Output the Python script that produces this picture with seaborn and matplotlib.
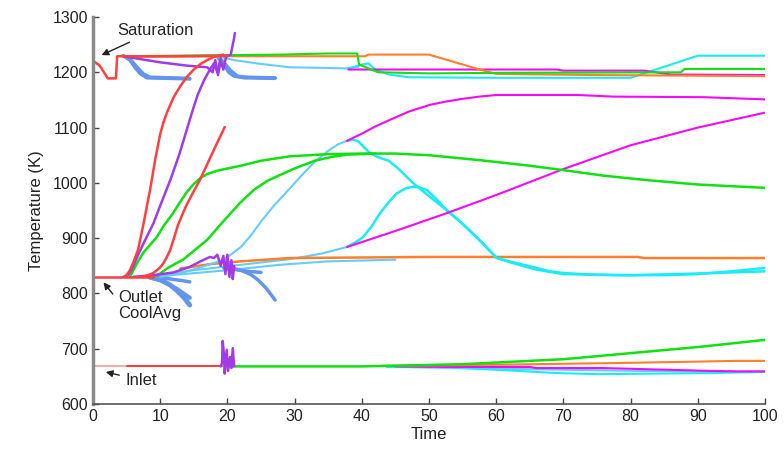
import numpy as np
import pandas as pd
import matplotlib
matplotlib.use("Agg")
import matplotlib.pyplot as plt
import seaborn as sns

# ---- data: (time, temperature K) ----
# saturation group
red_sat = [(0, 1221), (1.0, 1212), (2.2, 1189), (3.4, 1189), (3.6, 1229), (12, 1229), (20, 1230)]
green_sat = [(4.5, 1229), (20, 1231), (28, 1232), (35, 1234), (39.3, 1234), (39.6, 1214),
             (40.8, 1208), (42.4, 1200), (50, 1198), (60, 1199), (87.5, 1200), (88, 1206), (100, 1206)]
orange_sat = [(5, 1228), (20, 1229), (40.5, 1229), (41, 1232), (50, 1232), (57, 1207),
              (60, 1197), (75, 1195), (100, 1193)]
purple_sat = [(4.5, 1229), (7, 1224), (10, 1218), (14, 1212), (17, 1209), (17.8, 1200), (18.2, 1222),
              (18.6, 1195), (19, 1220), (19.4, 1205), (19.8, 1228), (20.5, 1232), (20.8, 1250),
              (21, 1262), (21.1, 1271)]
blue_sat_a = [(4.5, 1230), (5.5, 1222), (6.3, 1208), (7, 1198), (8, 1190), (14.4, 1188)]
blue_sat_b = [(4.5, 1230), (5.5, 1224), (6.5, 1210), (7.5, 1197), (8.5, 1191), (14.4, 1189)]
blue_sat_c = [(18.5, 1228), (19.5, 1214), (20.2, 1200), (21, 1193), (22.5, 1190), (27.1, 1189)]
blue_sat_d = [(18.8, 1226), (19.6, 1216), (20.4, 1204), (21.5, 1193), (23, 1191), (27.1, 1190)]
lblue_sat = [(18.5, 1229), (21, 1222), (24.4, 1216), (29.3, 1209), (34, 1208), (38, 1207), (39.5, 1210)]
cyan_sat = [(38, 1207), (40, 1214), (41, 1216), (42, 1205), (44, 1196), (47, 1191), (60, 1190),
            (80, 1190), (90, 1230), (100, 1230)]
magenta_sat = [(38, 1205), (55, 1205), (69, 1205), (70, 1203), (82, 1203), (86, 1196), (100, 1195)]

# outlet / coolant group
red_base = [(0, 830), (9, 830)]
red_rise_a = [(4.5, 830), (5, 833), (5.5, 842), (6, 856), (6.7, 879), (7.5, 925), (8.5, 988),
              (9.3, 1045), (10, 1088), (10.5, 1110), (11, 1127), (12, 1155), (13, 1175), (14, 1192),
              (15, 1205), (16, 1215), (17, 1222), (18, 1228), (19.4, 1232)]
red_rise_b = [(7, 830), (8, 832), (9, 837), (10, 847), (10.5, 855), (11, 866), (11.5, 879), (12, 898),
              (12.6, 922), (13.3, 943), (14, 962), (15, 985), (15.9, 1005), (16.7, 1026), (17.5, 1047),
              (18.5, 1073), (19.6, 1101)]
purple_rise = [(5, 830), (5.5, 838), (6, 850), (6.5, 864), (7.5, 890), (9, 927), (10.2, 965),
               (11.5, 1005), (12.8, 1050), (14, 1098), (14.8, 1130), (15.6, 1160), (16.5, 1185),
               (17.4, 1205), (18, 1216), (18.5, 1200), (19, 1226)]
green_rise_a = [(5.5, 830), (6, 842), (6.7, 858), (7.5, 874), (8.5, 888), (9.5, 902), (10.5, 922),
                (11.9, 945), (13, 966), (14, 984), (15, 998), (16, 1009), (17, 1016), (18.5, 1022),
                (20, 1026), (22, 1031), (25, 1040), (29.3, 1048), (35, 1052), (40, 1053), (45, 1053),
                (50, 1050), (57.6, 1041), (65, 1031), (70, 1023), (76, 1013), (82.4, 1005), (90, 997),
                (100, 991)]
green_rise_b = [(9, 830), (10, 836), (11, 845), (12, 852), (13.4, 861), (15, 877), (17, 897), (19, 925),
                (21.9, 964), (24, 988), (26, 1004), (27.8, 1014), (30, 1026), (33, 1040), (35.5, 1047),
                (37.8, 1051), (42, 1053)]
lblue_rise = [(10, 830), (12, 834), (14, 840), (16, 847), (18, 855), (19.3, 860), (20.5, 870),
              (22, 884), (23.5, 905), (25, 930), (27, 960), (29.3, 990), (31, 1013), (33, 1038),
              (35, 1058), (36.5, 1070), (37.8, 1076)]
cyan_peak_a = [(37.8, 1076), (38.7, 1078), (39.5, 1075), (40.2, 1066), (41.2, 1054), (42.5, 1046),
               (44, 1040), (45.5, 1025), (47.6, 1000), (50, 976), (52.6, 951), (55, 926), (57.5, 897),
               (60.1, 864), (62, 858), (65, 849), (68, 840), (70, 837), (74, 834), (77.4, 833),
               (85, 833), (89.9, 835), (95, 840), (100, 846)]
cyan_peak_b = [(37.8, 884), (39, 892), (40.2, 902), (41.5, 922), (42.7, 945), (44, 965), (45.2, 981),
               (46.5, 990), (47.6, 993), (48.5, 992), (49.7, 987), (51, 972), (52.6, 951), (55, 926),
               (57.5, 896), (60.1, 864), (63, 853), (66, 843), (70, 835), (80, 833), (90, 836),
               (100, 840)]
magenta_rise = [(37.8, 1076), (40, 1089), (42, 1102), (44.2, 1114), (47, 1129), (50.1, 1141),
                (52.5, 1147), (55, 1152), (57.5, 1156), (60.1, 1159), (72, 1159), (77.4, 1156),
                (90.8, 1155), (100, 1151)]
magenta_line = [(37.8, 884), (45, 913), (52.6, 945), (60, 978), (70, 1025), (80, 1068), (90, 1100),
                (100, 1127)]
lblue_low_a = [(8, 830), (14.4, 841), (20, 849), (29.3, 862), (34, 872), (37.8, 884)]
lblue_low_b = [(8, 829), (14.4, 836), (20, 842), (28, 852), (35, 858), (45, 861)]
orange_low = [(13, 845), (17.4, 853), (22, 858), (29.3, 864), (50, 866), (81, 866), (82, 864), (100, 864)]
purple_low = [(6, 830), (9, 833), (12, 838), (14.4, 848), (16, 858), (17.4, 866), (18, 864), (18.5, 870),
              (19, 850), (19.4, 868), (19.7, 835), (20, 870), (20.3, 830), (20.6, 860), (20.8, 826),
              (21, 850)]
blue_low_a = [(8.5, 829), (9.5, 827), (10.5, 822), (11.5, 815), (12.5, 805), (13.5, 793), (14.4, 779)]
blue_low_b = [(8.5, 829), (10, 824), (11, 818), (12.5, 808), (14.4, 792)]
blue_low_c = [(8.5, 830), (11, 827), (12.8, 824), (14.4, 821)]
blue_low_d = [(19.5, 848), (21, 845), (22, 842), (23.5, 834), (24.5, 825), (25.8, 809), (27.1, 788)]
blue_low_e = [(19.5, 846), (23, 840), (25, 838)]

# inlet group
pink_inlet = [(0, 668), (5, 668)]
red_inlet = [(5, 668), (19.2, 668)]
purple_inlet = [(19.0, 668), (19.2, 674), (19.3, 714), (19.5, 688), (19.6, 655), (19.9, 698), (20.1, 660),
                (20.4, 685), (20.6, 665), (20.8, 701), (21, 668)]
green_inlet = [(21, 668), (40, 668), (55, 672), (70, 681), (80, 692), (90, 703), (100, 716)]
orange_inlet = [(43, 669), (60, 671), (77.4, 674), (87, 676), (95.8, 678), (100, 678)]
magenta_inlet = [(45, 668), (52.6, 667), (65, 667), (66, 665), (76, 665), (91.4, 660), (96, 659), (100, 659)]
cyan_inlet = [(43.7, 667), (52.6, 666), (60, 662), (69, 656), (75, 654), (92.3, 656), (100, 658)]
lblue_inlet = [(47, 667), (60, 664), (80, 660), (100, 658)]

RED = "#ff4040"
GREEN = "#11e011"
ORANGE = "#ff7f2a"
PURPLE = "#a03ce6"
BLUE = "#6495ed"
LBLUE = "#66ccff"
CYAN = "#19ecf5"
MAGENTA = "#f50af5"
PINK = "#ff9999"

series = [
    (lblue_low_b, LBLUE, 1.5), (lblue_low_a, LBLUE, 1.5), (orange_low, ORANGE, 1.8),
    (blue_low_a, BLUE, 3.5), (blue_low_b, BLUE, 3), (blue_low_c, BLUE, 2.5),
    (blue_low_d, BLUE, 2.5), (blue_low_e, BLUE, 2.5),
    (blue_sat_a, BLUE, 2.5), (blue_sat_b, BLUE, 2.5), (blue_sat_c, BLUE, 2.5), (blue_sat_d, BLUE, 2.5),
    (lblue_sat, LBLUE, 1.5), (cyan_sat, CYAN, 1.5), (magenta_sat, MAGENTA, 1.5),
    (orange_sat, ORANGE, 1.5), (green_sat, GREEN, 1.5),
    (lblue_rise, LBLUE, 1.5), (cyan_peak_a, CYAN, 1.8), (cyan_peak_b, CYAN, 1.8),
    (magenta_rise, MAGENTA, 1.5), (magenta_line, MAGENTA, 1.5),
    (green_rise_b, GREEN, 1.8), (green_rise_a, GREEN, 1.8),
    (purple_low, PURPLE, 1.8), (purple_rise, PURPLE, 1.8), (purple_sat, PURPLE, 1.8),
    (red_rise_b, RED, 1.8), (red_rise_a, RED, 1.8), (red_base, RED, 1.8), (red_sat, RED, 1.8),
    (lblue_inlet, LBLUE, 1.5), (cyan_inlet, CYAN, 1.5), (magenta_inlet, MAGENTA, 1.5),
    (orange_inlet, ORANGE, 1.5), (green_inlet, GREEN, 1.8),
    (pink_inlet, PINK, 1.2), (red_inlet, RED, 1.5), (purple_inlet, PURPLE, 1.8),
]

sns.set_style("ticks")
plt.rcParams["font.family"] = ["Liberation Sans", "DejaVu Sans"]

fig = plt.figure(figsize=(7.84, 4.53), dpi=100)
ax = fig.add_axes([93 / 784, 49 / 453, 672 / 784, 387 / 453])

for pts, col, lw in series:
    df = pd.DataFrame(pts, columns=["Time", "Temp"])
    sns.lineplot(data=df, x="Time", y="Temp", color=col, lw=lw, sort=False,
                 estimator=None, ax=ax, legend=False)

ax.set_xlim(0, 100)
ax.set_ylim(600, 1300)
ax.set_xticks(np.arange(0, 101, 10))
ax.set_yticks(np.arange(600, 1301, 100))
ax.set_xlabel("Time", fontsize=12, color="#222222", labelpad=2)
ax.set_ylabel("Temperature (K)", fontsize=12, color="#222222", labelpad=6)
ax.tick_params(direction="in", length=4, width=1, colors="#444444", labelsize=11.5,
               labelcolor="#222222")
sns.despine(ax=ax)
ax.spines["left"].set_color("#8a8a8a")
ax.spines["left"].set_linewidth(2.5)
ax.spines["bottom"].set_color("#555555")
ax.spines["bottom"].set_linewidth(1.2)

arrow = dict(arrowstyle="-|>", color="#222222", lw=1, mutation_scale=10)
ax.annotate("Saturation", xy=(0.9, 1229), xytext=(3.6, 1276), fontsize=12, va="center",
            arrowprops=arrow)
ax.annotate("", xy=(1.3, 824), xytext=(3.2, 795), arrowprops=arrow)
ax.text(3.8, 792, "Outlet", fontsize=12, va="center")
ax.text(3.8, 763, "CoolAvg", fontsize=12, va="center")
ax.annotate("Inlet", xy=(1.5, 659), xytext=(4.8, 643), fontsize=12, va="center",
            arrowprops=arrow)

fig.savefig("out.png", dpi=100)
